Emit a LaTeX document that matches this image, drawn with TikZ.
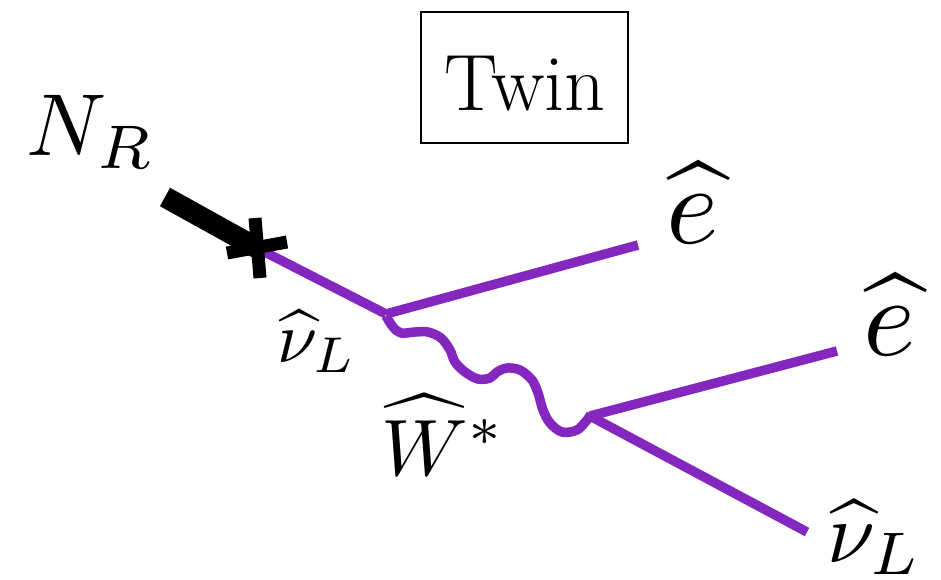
\documentclass[tikz,border=0pt]{standalone}
\usetikzlibrary{calc}
\definecolor{fpurple}{RGB}{131,39,190}
\tikzset{
  fermion/.style={draw=fpurple, line width=9.5pt, line cap=butt},
  boson/.style={draw=fpurple, line width=9.5pt, line cap=butt, line join=round},
  heavy/.style={draw=black, line width=21pt, line cap=butt},
  crossarm/.style={draw=black, line width=13pt, line cap=butt},
  lbl/.style={anchor=base west, inner sep=0pt},
}
\begin{document}
\begin{tikzpicture}[x=1pt,y=-1pt]
\useasboundingbox (0,0) rectangle (941,579);
% vertices
\coordinate (ins) at (257,248);
\coordinate (nstart) at (165,197);
\coordinate (v1) at (386,314);
\coordinate (v2) at (590,416);
\coordinate (e1) at (638,245);
\coordinate (e2) at (837,351);
\coordinate (nu2) at (807,532);
\coordinate (ca) at (227,253);
\coordinate (cb) at (287,242);
\coordinate (cc) at (255,218);
\coordinate (cd) at (260,278);
% box
\node[draw, line width=2pt, minimum width=207pt, minimum height=131pt, inner sep=0pt] (box) at (524,77.5) {};
\node[anchor=base, inner sep=0pt] (twin) at (525,110) {\fontsize{80}{80}\selectfont Twin};
% fermion lines
\draw[fermion] (ins) -- (v1);
\draw[fermion] (v1) -- (e1);
\draw[fermion] (v2) -- (e2);
\draw[fermion] (v2) -- (nu2);
% W boson
\draw[boson] plot[smooth, tension=0.55] coordinates {(386,316) (393,327) (401,333) (415,332) (428,332) (441,338) (450,350) (455,362) (465,372) (478,379) (490,378) (497,372) (507,368) (520,370) (532,380) (538,393) (543,410) (550,423) (562,432) (577,430) (587,420) (591,414)};
% heavy neutrino and mass insertion
\draw[heavy] (nstart) -- (ins);
\draw[crossarm] (ca) -- (cb);
\draw[crossarm] (cc) -- (cd);
% labels
\node[lbl, scale=8.8] (nr) at (25,155) {$N_R$};
\node[lbl, scale=11.2] (eup) at (664,243) {$\widehat{e}$};
\node[lbl, scale=11.2] (eright) at (861,355) {$\widehat{e}$};
\node[lbl, scale=8.6] (nubot) at (826,562) {$\widehat{\nu}_L$};
\node[lbl, scale=7.2] (nuleft) at (276,362) {$\widehat{\nu}_L$};
\node[lbl, scale=8.0] (wstar) at (380,475) {$\widehat{W}^*$};
\end{tikzpicture}
\end{document}
